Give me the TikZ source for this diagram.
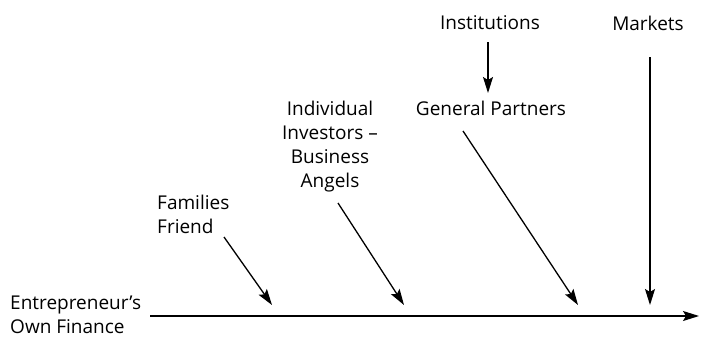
\documentclass[tikz,border=0pt]{standalone}
\usepackage{fontspec}
\setmainfont{Open Sans}
\usetikzlibrary{arrows.meta}
\begin{document}
\begin{tikzpicture}[x=1pt,y=-1pt,
  lbl/.style={font=\fontsize{19}{24}\selectfont, inner sep=0pt, align=center},
  arr/.style={line width=1.3pt, -{Stealth[length=16pt,width=10pt,inset=3pt]}}]
\useasboundingbox (0,0) rectangle (709,338);

% sources of finance
\node[lbl] (inst) at (490,23) {Institutions};
\node[lbl] (mkt) at (648,23) {Markets};
\node[lbl] (gp) at (491,108) {General Partners};
\node[lbl] (angels) at (330,147) {Individual\\Investors --\\Business\\Angels};
\node[lbl, anchor=west, align=left] (fam) at (157,214) {Families\\Friend};
\node[lbl, anchor=west, align=left] (ent) at (10,315) {Entrepreneur’s\\Own Finance};

% arrow end points
\coordinate (instA) at (488,42);
\coordinate (instB) at (488,93);
\coordinate (mktA) at (650,57);
\coordinate (mktB) at (650,305);
\coordinate (gpA) at (463,131);
\coordinate (gpB) at (578,305);
\coordinate (angA) at (338,203);
\coordinate (angB) at (404,305);
\coordinate (famA) at (224,237);
\coordinate (famB) at (272,305);
\coordinate (lineA) at (150,316);
\coordinate (lineB) at (699,316);

% connectors
\draw[arr] (lineA) -- (lineB);
\draw[arr] (instA) -- (instB);
\draw[arr] (mktA) -- (mktB);
\draw[arr] (gpA) -- (gpB);
\draw[arr] (angA) -- (angB);
\draw[arr] (famA) -- (famB);
\end{tikzpicture}
\end{document}
